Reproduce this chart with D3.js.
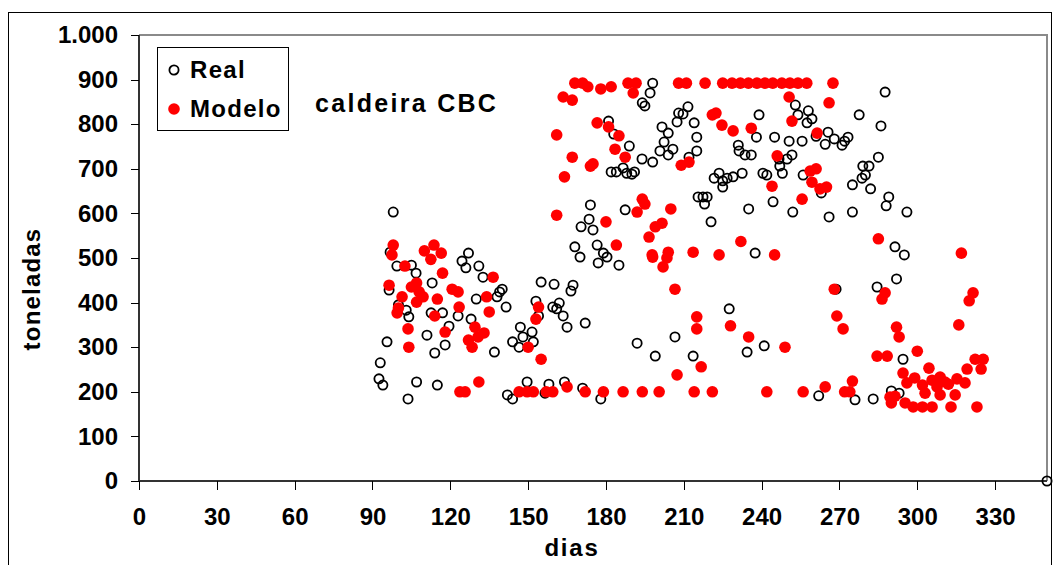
<!DOCTYPE html>
<html>
<head>
<meta charset="utf-8">
<script src="https://cdn.jsdelivr.net/npm/d3@7"></script>
<style>
  body { margin: 0; background: #fff; }
  svg text { font-family: "Liberation Sans", Arial, sans-serif; font-weight: bold; fill: #000; }
</style>
</head>
<body>
<svg class="plot" width="1055" height="565"></svg>
<script>
// [dia, toneladas]
const real = [
  [98, 603], [96.8, 513], [99.4, 482], [105, 484], [106.8, 466], [113, 444], [127, 511], [124.5, 493],
  [126, 478], [131, 482], [132.6, 457], [140, 430], [139, 424], [138, 413], [130, 408], [141.5, 390],
  [96.4, 428], [100, 395], [103, 383], [104, 368], [112.6, 377], [117, 377], [123, 370], [119.5, 347],
  [128, 363], [111, 327], [118, 305], [114, 287], [95.6, 312], [137, 289], [147, 345], [148, 323],
  [151.5, 334], [152, 312], [144, 312], [146.5, 300], [155, 446], [160, 441], [153, 403], [159.5, 390],
  [162, 399], [154, 370], [93, 265], [92.5, 229], [94, 215], [107, 222], [115, 215], [103.7, 184],
  [142, 193], [144, 184], [149.6, 222], [158, 217], [156.5, 197],
  [198, 892], [197, 870], [194, 848], [195, 841], [211.6, 839], [208, 825], [209.7, 823], [207.4, 805],
  [214, 803], [181, 807], [183, 778], [201.6, 794], [204, 780], [202.4, 760], [205.8, 744], [200.8, 740],
  [204, 731], [198, 715], [193.9, 722], [189, 751], [215, 771], [215, 740], [212, 726], [182, 693],
  [184, 693], [186.6, 702], [188, 690], [191, 693], [190, 688], [174, 619], [173.5, 587], [170.4, 570],
  [175, 563], [187.4, 608], [215.5, 637],
  [168, 525], [170, 502], [176.6, 529], [179, 511], [180.4, 502], [177, 489], [185, 484], [167.3, 439],
  [166.5, 426], [161, 386], [163.5, 370], [165, 345], [172, 354], [192, 309], [199, 280], [206.6, 323],
  [213.6, 280], [164, 222], [171, 208], [178, 184],
  [239, 821], [253, 843], [254, 821], [258, 830], [259.4, 812], [257.5, 803], [261, 773], [265.6, 782],
  [264.5, 755], [268, 767], [271, 753], [272, 762], [273.3, 771], [277.6, 821], [238, 771], [245, 771],
  [250.6, 762], [255.6, 762], [231, 753], [231.3, 740], [233.6, 731], [236, 731], [246.7, 722], [249.8, 722],
  [251.7, 731], [247, 706], [248, 690], [240.5, 690], [242, 686], [232.5, 690], [229, 682], [221.7, 679],
  [223.6, 690], [225, 673], [226.7, 679], [225, 659], [217.4, 637], [219, 637], [218, 621], [256, 686],
  [263, 646], [275, 664], [279, 706], [280, 686], [278.7, 679], [235, 610], [244.4, 626], [252, 603],
  [266, 592], [275, 603], [220.5, 581],
  [237.5, 511], [227.5, 386], [241, 303], [234.4, 289], [268.7, 430], [262, 191], [276, 182], [283, 184],
  [287.6, 872], [286, 796], [285, 726], [281.4, 706], [282, 655], [289, 637], [288, 617], [296, 603],
  [291.4, 525], [295, 507], [292, 453], [284.5, 435], [294.5, 273], [290, 202], [293, 197],
  [350, 0]
];

const modelo = [
  [161, 596], [98, 529], [97.5, 507], [113.7, 529], [110, 516], [112.5, 497], [116.5, 511], [102.5, 482],
  [117, 466], [136.5, 457], [96.4, 439], [105, 435], [107, 444], [108, 424], [107, 401], [109.5, 413],
  [101.4, 413], [115, 408], [120.7, 430], [123, 424], [134, 413], [123.4, 390], [135, 379], [100, 388],
  [99.5, 377], [114, 370], [103.7, 341], [104, 300], [118, 334], [129.5, 345], [133, 332], [127, 316],
  [130.7, 323], [128.4, 300], [154, 390], [153, 363], [150, 300], [155, 273], [131, 222], [123.7, 200],
  [125.7, 200], [146.5, 200], [149.6, 200], [152, 200], [157, 200], [159.5, 200],
  [168, 892], [171, 892], [173, 884], [178, 879], [182, 884], [188.5, 892], [191.6, 892], [190.5, 870],
  [208, 892], [211, 892], [163.5, 861], [167, 854], [176.6, 803], [181, 794], [185, 774], [161, 776],
  [183.5, 744], [187.4, 726], [167, 726], [175, 711], [174, 706], [164, 682], [209, 708], [212, 715],
  [194, 632], [195, 621], [205, 610], [192, 603], [180, 581], [199, 570], [201.6, 578], [196.6, 547],
  [184, 529], [197.8, 507], [198, 502], [204, 513], [203.5, 500], [202, 480], [213.6, 513], [206.6, 430],
  [215, 368], [215, 341], [207.4, 238], [216.7, 256], [165, 211], [172, 200], [179, 200], [186.6, 200],
  [194, 200], [200.5, 200], [214, 200],
  [218.2, 892], [225, 892], [228.6, 892], [231.8, 892], [234.9, 892], [238.2, 892], [241.3, 892],
  [244.3, 892], [247.8, 892], [250.9, 892], [254, 892], [257.4, 892], [267.5, 892],
  [250.6, 861], [266, 848], [221, 821], [222.4, 825], [224.7, 798], [229, 785], [236, 791], [251.7, 807],
  [261.4, 780], [246, 729], [244, 661], [255.6, 632], [258.7, 695], [261, 700], [259.4, 670], [262.5, 655],
  [265, 659], [232, 537],
  [223.6, 507], [245, 507], [268, 430], [269, 370], [271.4, 341], [228, 348], [235, 323], [249, 300],
  [275, 224], [264.5, 211], [272, 200], [274, 200], [221, 200], [242, 200], [256, 200],
  [285, 543], [317, 511], [321.5, 422], [320, 404], [287.6, 422], [286.4, 408], [316, 350], [292, 345],
  [293, 323], [284.5, 280], [288.4, 280], [300, 291], [322.3, 273], [325.4, 273], [319.2, 251], [324.6, 251],
  [304.5, 253], [294.5, 242], [299, 231], [296, 220], [302, 215], [305.7, 226], [308.8, 233], [310.7, 222],
  [307.6, 211], [312, 217], [315.3, 229], [318.4, 220], [303, 197], [308.8, 193], [314.6, 193], [289.5, 188],
  [291.4, 190], [290, 175], [295.3, 175], [298.4, 166], [302, 166], [305.7, 166], [313, 166], [323, 166]
];

const xTicks = d3.range(0, 331, 30);
const yTicks = d3.range(0, 1001, 100);
const legendLabels = ['Real', 'Modelo'];
const chartTitle = 'caldeira CBC';

const m = {l: 139, r: 1047, t: 35, b: 481};

const ptBR = d3.formatLocale({decimal: ',', thousands: '.', grouping: [3], currency: ['R$', '']});
const fmt = ptBR.format(',');

const xS = d3.scaleLinear().domain([0, 350]).range([m.l, m.r]);
const yS = d3.scaleLinear().domain([0, 1000]).range([m.b, m.t]);

const plot = d3.select('.plot');

// outer frame
plot.append('rect')
  .attr('x', 8.5).attr('y', 12.5).attr('width', 1043).attr('height', 570)
  .attr('fill', 'none').attr('stroke', '#000').attr('stroke-width', 1);

// plot area border (top/right)
plot.append('path')
  .attr('d', `M${m.l},${m.t}H${m.r}V${m.b}`)
  .attr('fill', 'none').attr('stroke', '#8a8a8a').attr('stroke-width', 2);

const xAxis = plot.append('g')
  .attr('transform', `translate(0,${m.b})`)
  .call(d3.axisBottom(xS).tickValues(xTicks).tickSize(9).tickFormat(d3.format('d')));
xAxis.select('.domain').attr('stroke', '#333').attr('stroke-width', 2)
  .attr('d', `M${m.l},0H${m.r}`);
xAxis.selectAll('.tick line').attr('stroke', '#000').attr('stroke-width', 1);
xAxis.selectAll('.tick text').attr('y', 27).attr('dy', '0.71em').style('font-size', '24px');

const yAxis = plot.append('g')
  .attr('transform', `translate(${m.l},0)`)
  .call(d3.axisLeft(yS).tickValues(yTicks).tickSize(8).tickFormat(fmt));
yAxis.select('.domain').attr('stroke', '#333').attr('stroke-width', 2)
  .attr('d', `M0,${m.t}V${m.b}`);
yAxis.selectAll('.tick line').attr('stroke', '#000').attr('stroke-width', 1);
yAxis.selectAll('.tick text').attr('x', -21).style('font-size', '24px');

plot.selectAll('.domain, .tick line').attr('shape-rendering', 'crispEdges');

// axis titles
plot.append('text')
  .attr('x', 572).attr('y', 556)
  .attr('text-anchor', 'middle').style('font-size', '24px').style('letter-spacing', '1.8px')
  .text('dias');
plot.append('text')
  .attr('transform', 'translate(40,289) rotate(-90)')
  .attr('text-anchor', 'middle').style('font-size', '24px').style('letter-spacing', '1.2px')
  .text('toneladas');

// points
const l_real = plot.append('g');
const l_model = plot.append('g');

l_real.selectAll('.real').data(real)
  .join('circle')
  .attr('class', 'real')
  .attr('cx', d => xS(d[0]))
  .attr('cy', d => yS(d[1]))
  .attr('r', 4.6)
  .attr('fill', 'none')
  .attr('stroke', '#000')
  .attr('stroke-width', 1.8);

l_model.selectAll('.modelo').data(modelo)
  .join('circle')
  .attr('class', 'modelo')
  .attr('cx', d => xS(d[0]))
  .attr('cy', d => yS(d[1]))
  .attr('r', 5.8)
  .attr('fill', '#ff0000');

// legend
const leg = plot.append('g').attr('transform', 'translate(157,47)');
leg.append('rect')
  .attr('x', 0.5).attr('y', 0.5).attr('width', 131).attr('height', 83)
  .attr('fill', '#fff').attr('stroke', '#000');
leg.selectAll('.lg').data(legendLabels)
  .join('g')
  .attr('class', 'lg')
  .attr('transform', (d, i) => `translate(0,${23 + i * 39})`)
  .each(function (d, i) {
      const g = d3.select(this);
      if (i === 0) {
          g.append('circle').attr('cx', 17).attr('cy', 0).attr('r', 4.6)
            .attr('fill', 'none').attr('stroke', '#000').attr('stroke-width', 1.8);
      } else {
          g.append('circle').attr('cx', 17).attr('cy', 0).attr('r', 5.8).attr('fill', '#ff0000');
      }
      g.append('text').attr('x', 33).attr('y', 8)
        .style('font-size', '24px').style('letter-spacing', '1.3px').text(d);
  });

plot.append('text')
  .attr('x', 315).attr('y', 112)
  .style('font-size', '25px').style('letter-spacing', '2.3px')
  .text(chartTitle);
</script>
</body>
</html>
